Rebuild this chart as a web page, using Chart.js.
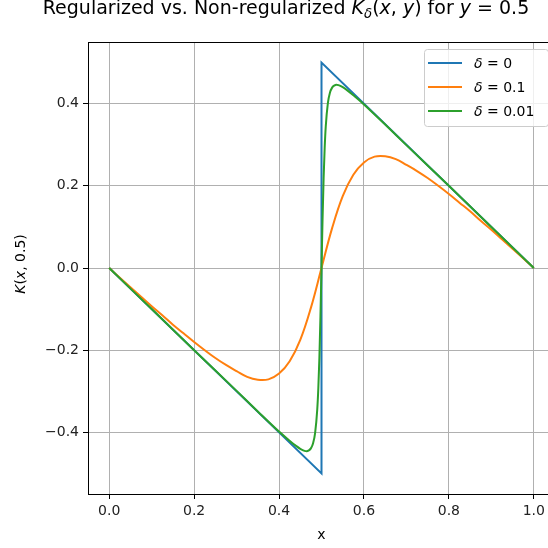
<!DOCTYPE html>
<html>
<head>
<meta charset="utf-8">
<script src="https://cdn.jsdelivr.net/npm/chart.js@4.4.0/dist/chart.umd.min.js"></script>
<style>
  html, body { margin: 0; padding: 0; background: #fff; overflow: hidden; }
  #wrap { width: 580px; height: 548px; }
</style>
</head>
<body>
<div id="wrap"><canvas id="kernelChart" width="580" height="548"></canvas></div>
<script>
// ---- values ----
const X_TICKS = [0, 0.2, 0.4, 0.6, 0.8, 1.0];
const Y_TICKS = [-0.4, -0.2, 0, 0.2, 0.4];

// delta = 0 (jump at x = 0.5)
const X_D0 = [0, 0.5, 0.5, 1];
const Y_D0 = [0, -0.5, 0.5, 0];

// delta = 0.1
const X_D01 = [0, 0.025, 0.05, 0.075, 0.1, 0.125, 0.15, 0.175, 0.2, 0.225, 0.25, 0.275, 0.3, 0.325, 0.35, 0.375,
  0.4, 0.425, 0.45, 0.475, 0.5, 0.525, 0.55, 0.575, 0.6, 0.625, 0.65, 0.675, 0.7, 0.725, 0.75, 0.775, 0.8,
  0.825, 0.85, 0.875, 0.9, 0.925, 0.95, 0.975, 1.0];
const Y_D01 = [0, -0.024, -0.047, -0.070, -0.093, -0.115, -0.138, -0.159, -0.180, -0.200, -0.219, -0.236, -0.251,
  -0.265, -0.272, -0.271, -0.257, -0.227, -0.175, -0.097, 0, 0.097, 0.175, 0.227, 0.257, 0.271, 0.272, 0.265,
  0.251, 0.236, 0.219, 0.200, 0.180, 0.159, 0.138, 0.115, 0.093, 0.070, 0.047, 0.024, 0];

// delta = 0.01
const X_D001 = [0, 0.1, 0.2, 0.3, 0.35, 0.4, 0.42, 0.44, 0.45, 0.46, 0.465, 0.47, 0.475, 0.48, 0.485, 0.49,
  0.4925, 0.495, 0.4975, 0.5, 0.5025, 0.505, 0.5075, 0.51, 0.515, 0.52, 0.525, 0.53, 0.535, 0.54, 0.55, 0.56,
  0.58, 0.6, 0.65, 0.7, 0.8, 0.9, 1.0];
const Y_D001 = [0, -0.100, -0.200, -0.299, -0.349, -0.398, -0.416, -0.433, -0.440, -0.445, -0.446, -0.444,
  -0.439, -0.427, -0.401, -0.344, -0.293, -0.219, -0.119, 0, 0.119, 0.219, 0.293, 0.344, 0.401, 0.427, 0.439,
  0.444, 0.446, 0.445, 0.440, 0.433, 0.416, 0.398, 0.349, 0.299, 0.200, 0.100, 0];

const LEGEND_VALUES = ['0', '0.1', '0.01'];
const COLORS = ['#1f77b4', '#ff7f0e', '#2ca02c'];

const FONT = 'DejaVu Sans';
const pts = (xs, ys) => xs.map((x, i) => ({ x: x, y: ys[i] }));
const fmt = v => Math.abs(v) < 1e-9 ? '0.0' : (v < 0 ? '\u2212' + (-v).toFixed(1) : v.toFixed(1));

// draw a run of text pieces (plain / italic / subscript) starting at x
function runText(ctx, parts, x, y, size) {
  parts.forEach(p => {
    const s = p.sub ? size * 0.7 : size;
    ctx.font = (p.it ? 'italic ' : '') + s + 'px "' + FONT + '"';
    ctx.fillText(p.t, x, y + (p.sub ? size * 0.22 : 0));
    x += ctx.measureText(p.t).width;
  });
  return x;
}
function runWidth(ctx, parts, size) {
  let w = 0;
  parts.forEach(p => {
    const s = p.sub ? size * 0.7 : size;
    ctx.font = (p.it ? 'italic ' : '') + s + 'px "' + FONT + '"';
    w += ctx.measureText(p.t).width;
  });
  return w;
}

const decor = {
  id: 'decor',
  afterDraw(chart) {
    const ctx = chart.ctx;
    const a = chart.chartArea;
    ctx.save();

    // top spine
    ctx.strokeStyle = '#000';
    ctx.lineWidth = 1;
    ctx.beginPath();
    ctx.moveTo(a.left, a.top + 0.5);
    ctx.lineTo(a.right, a.top + 0.5);
    ctx.stroke();

    ctx.fillStyle = '#000';
    ctx.textBaseline = 'alphabetic';

    // title
    const title = [
      { t: 'Regularized vs. Non-regularized ' }, { t: 'K', it: true }, { t: 'δ', it: true, sub: true },
      { t: '(' }, { t: 'x', it: true }, { t: ', ' }, { t: 'y', it: true }, { t: ') for ' },
      { t: 'y', it: true }, { t: ' = 0.5' }
    ];
    const tw = runWidth(ctx, title, 19);
    runText(ctx, title, 286 - tw / 2, 14, 19);

    // x label
    ctx.font = '14px "' + FONT + '"';
    ctx.textAlign = 'center';
    ctx.fillText('x', (a.left + a.right) / 2, 539);
    ctx.textAlign = 'left';

    // y label
    const ylab = [{ t: 'K', it: true }, { t: '(' }, { t: 'x', it: true }, { t: ', 0.5)' }];
    const yw = runWidth(ctx, ylab, 14);
    ctx.save();
    ctx.translate(25, 264);
    ctx.rotate(-Math.PI / 2);
    runText(ctx, ylab, -yw / 2, 0, 14);
    ctx.restore();

    // legend box
    const bx = 424, by = 49, bw = 124, bh = 77, r = 3;
    ctx.fillStyle = 'rgba(255,255,255,0.8)';
    ctx.strokeStyle = '#cccccc';
    ctx.beginPath();
    ctx.roundRect(bx + 0.5, by + 0.5, bw, bh, r);
    ctx.fill();
    ctx.stroke();
    LEGEND_VALUES.forEach((v, i) => {
      const yy = 63 + i * 24;
      ctx.strokeStyle = COLORS[i];
      ctx.lineWidth = 2;
      ctx.beginPath();
      ctx.moveTo(428, yy);
      ctx.lineTo(462, yy);
      ctx.stroke();
      ctx.fillStyle = '#000';
      runText(ctx, [{ t: 'δ', it: true }, { t: ' = ' + v }], 474, yy + 5, 14);
    });

    ctx.restore();
  }
};

const axisCommon = {
  type: 'linear',
  grid: { color: '#b0b0b0', lineWidth: 1, tickColor: '#000', tickLength: 5, tickWidth: 1 },
  border: { color: '#000', width: 1 },
  ticks: { font: { family: FONT, size: 14 }, color: '#222', padding: 4, maxRotation: 0, callback: v => fmt(v) }
};

new Chart(document.getElementById('kernelChart'), {
  type: 'scatter',
  data: {
    datasets: [
      { label: 'δ = 0', data: pts(X_D0, Y_D0), borderColor: COLORS[0], backgroundColor: COLORS[0],
        showLine: true, borderWidth: 2, pointRadius: 0, tension: 0, order: 2 },
      { label: 'δ = 0.1', data: pts(X_D01, Y_D01), borderColor: COLORS[1], backgroundColor: COLORS[1],
        showLine: true, borderWidth: 2, pointRadius: 0, tension: 0.4, order: 1 },
      { label: 'δ = 0.01', data: pts(X_D001, Y_D001), borderColor: COLORS[2], backgroundColor: COLORS[2],
        showLine: true, borderWidth: 2, pointRadius: 0, cubicInterpolationMode: 'monotone', order: 0 }
    ]
  },
  options: {
    responsive: false,
    animation: false,
    layout: { padding: { top: 42, left: 0, right: 25, bottom: 0 } },
    plugins: { legend: { display: false }, tooltip: { enabled: false }, title: { display: false } },
    scales: {
      x: Object.assign({}, axisCommon, {
        min: -0.05, max: 1.05,
        afterBuildTicks: s => { s.ticks = X_TICKS.map(v => ({ value: v })); },
        afterFit: s => { s.height = 54; }
      }),
      y: Object.assign({}, axisCommon, {
        min: -0.55, max: 0.55,
        afterBuildTicks: s => { s.ticks = Y_TICKS.map(v => ({ value: v })); },
        afterFit: s => { s.width = 88; }
      })
    }
  },
  plugins: [decor]
});
</script>
</body>
</html>
